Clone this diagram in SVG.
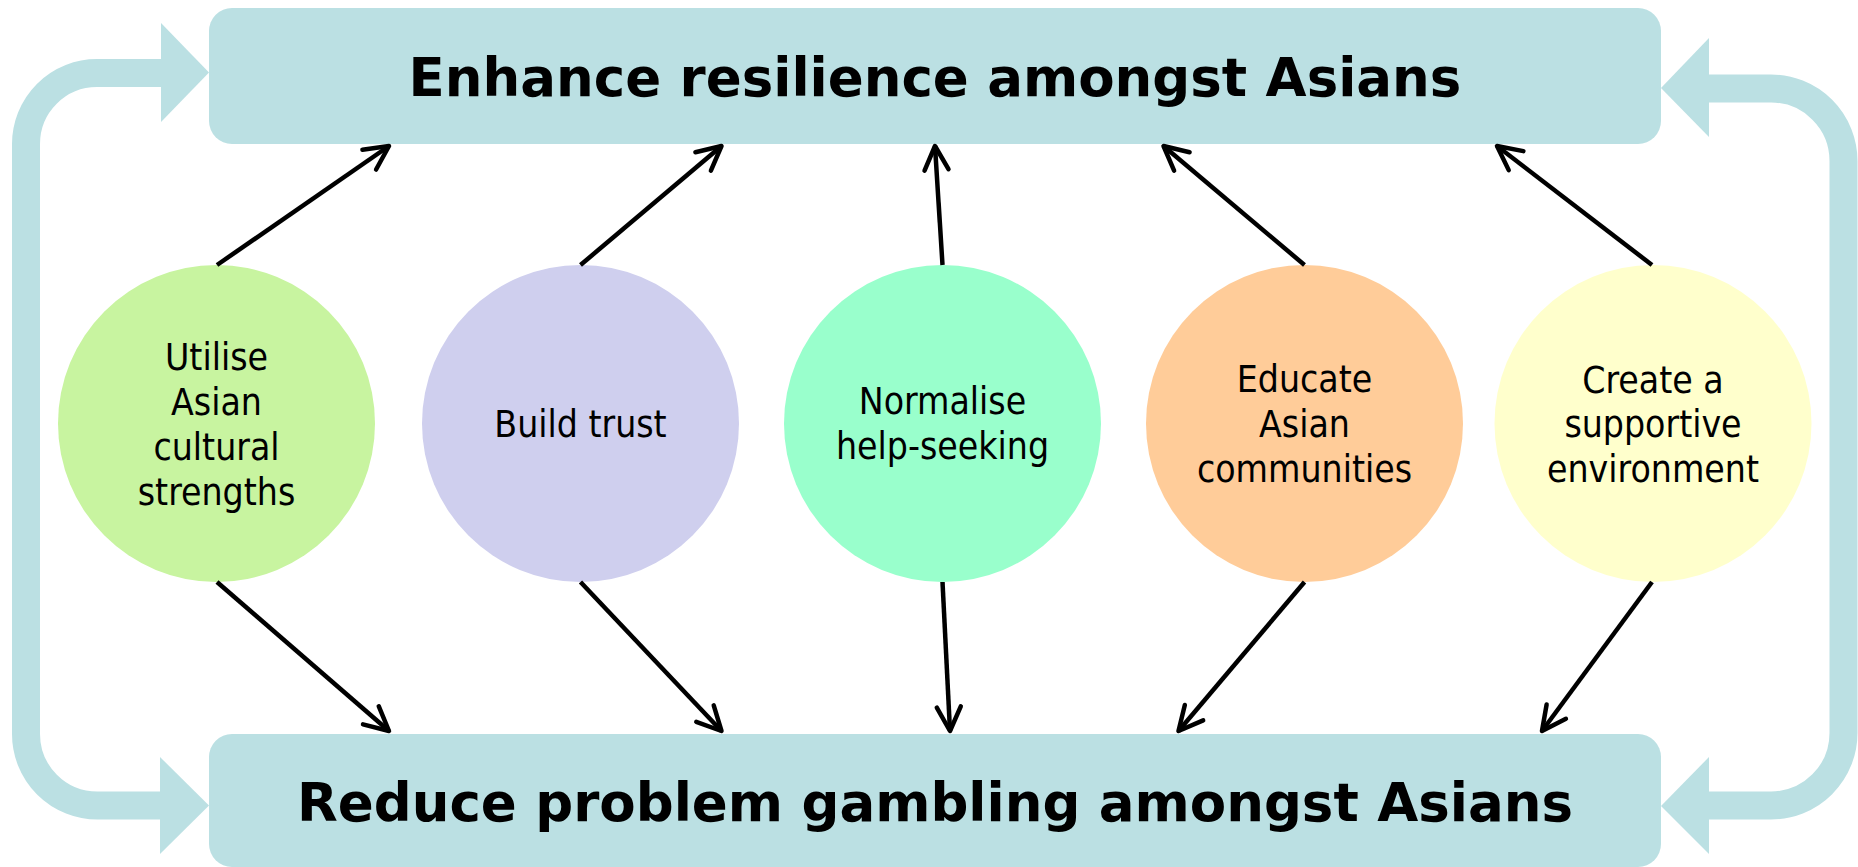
<svg xmlns="http://www.w3.org/2000/svg" width="1858" height="867" viewBox="0 0 1858 867">
<style>
.box{fill:#BBE0E3}
.band{fill:none;stroke:#BBE0E3;stroke-width:28}
.head{fill:#BBE0E3}
.title{font-family:"DejaVu Sans",Verdana,sans-serif;font-weight:bold;font-size:53px;fill:#000;text-anchor:middle}
.lbl{font-family:"DejaVu Sans Condensed","DejaVu Sans",sans-serif;font-stretch:condensed;font-size:37px;fill:#000;text-anchor:middle}
.conn{stroke:#000;stroke-width:4.5;fill:none;marker-end:url(#arr)}
</style>
<defs>
<marker id="arr" viewBox="-30 -20 40 40" refX="0" refY="0" markerWidth="40" markerHeight="40" markerUnits="userSpaceOnUse" orient="auto" overflow="visible">
<path d="M-24,-12 L0,0 L-24,12" fill="none" stroke="#000" stroke-width="4.5" stroke-linecap="round" stroke-linejoin="round"/>
</marker>
</defs>
<g id="loops">
<path class="band" d="M26,493 V144 A71,71 0 0 1 97,73 H162"/>
<polygon class="head" points="161,23 209,72.5 161,122"/>
<path class="band" d="M26,493 V734 A71.5,71.5 0 0 0 97.5,805.5 H161"/>
<polygon class="head" points="160,757 209,805.5 160,854"/>
<path class="band" d="M1843.5,508 V161 A72.5,72.5 0 0 0 1771,88.5 H1708"/>
<polygon class="head" points="1709,38 1661,88 1709,137"/>
<path class="band" d="M1843.5,508 V733 A72.5,72.5 0 0 1 1771,805.5 H1709"/>
<polygon class="head" points="1709,757 1661,806 1709,854"/>
</g>
<g id="top">
<rect class="box" x="209" y="8" width="1452" height="136" rx="23"/>
<text class="title" x="935" y="96">Enhance resilience amongst Asians</text>
</g>
<g id="bottom">
<rect class="box" x="209" y="734" width="1452" height="133" rx="23"/>
<text class="title" x="935" y="821">Reduce problem gambling amongst Asians</text>
</g>
<g id="n1">
<circle cx="216.5" cy="423.5" r="158.5" fill="#C8F4A0"/>
<text class="lbl" x="216.5" y="370">Utilise</text>
<text class="lbl" x="216.5" y="415">Asian</text>
<text class="lbl" x="216.5" y="460">cultural</text>
<text class="lbl" x="216.5" y="505">strengths</text>
</g>
<g id="n2">
<circle cx="580.5" cy="423.5" r="158.5" fill="#CFCFEE"/>
<text class="lbl" x="580.5" y="437">Build trust</text>
</g>
<g id="n3">
<circle cx="942.5" cy="423.5" r="158.5" fill="#99FFCC"/>
<text class="lbl" x="942.5" y="414">Normalise</text>
<text class="lbl" x="942.5" y="459">help-seeking</text>
</g>
<g id="n4">
<circle cx="1304.5" cy="423.5" r="158.5" fill="#FFCC99"/>
<text class="lbl" x="1304.5" y="392">Educate</text>
<text class="lbl" x="1304.5" y="437">Asian</text>
<text class="lbl" x="1304.5" y="482">communities</text>
</g>
<g id="n5">
<circle cx="1653" cy="423.5" r="158.5" fill="#FFFFCC"/>
<text class="lbl" x="1653" y="393">Create a</text>
<text class="lbl" x="1653" y="437">supportive</text>
<text class="lbl" x="1653" y="482">environment</text>
</g>
<g id="connectors">
<line class="conn" x1="217" y1="265" x2="389" y2="146"/>
<line class="conn" x1="580.5" y1="265" x2="721.5" y2="146"/>
<line class="conn" x1="942.5" y1="265" x2="935" y2="146"/>
<line class="conn" x1="1304.5" y1="265" x2="1163.5" y2="146"/>
<line class="conn" x1="1652" y1="265" x2="1497" y2="146"/>
<line class="conn" x1="217" y1="582" x2="389" y2="731"/>
<line class="conn" x1="580.5" y1="582" x2="721.5" y2="731"/>
<line class="conn" x1="942.5" y1="582" x2="950" y2="731"/>
<line class="conn" x1="1304.5" y1="582" x2="1178.5" y2="731"/>
<line class="conn" x1="1652" y1="582" x2="1542" y2="731"/>
</g>
</svg>
